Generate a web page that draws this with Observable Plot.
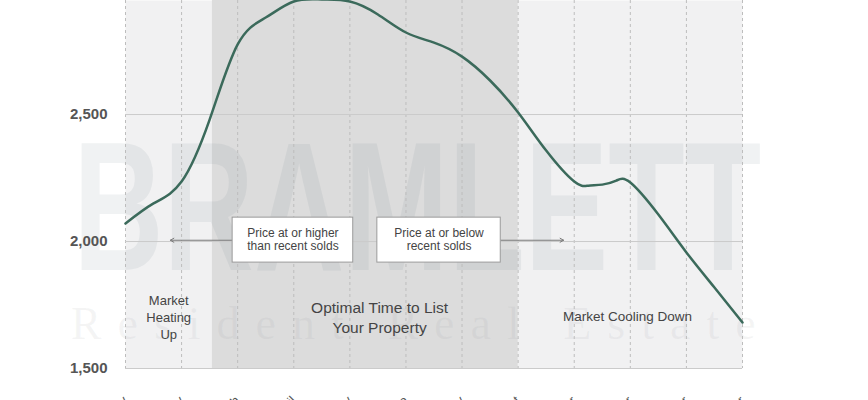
<!DOCTYPE html>
<html><head><meta charset="utf-8">
<script src="https://cdn.jsdelivr.net/npm/d3@7"></script>
<script src="https://cdn.jsdelivr.net/npm/@observablehq/plot@0.6"></script>
<style>body{margin:0;background:#fff;} svg{display:block}</style>
</head><body><div id="chart"></div>
<script>
// ---- data ----
const monthLabels = ["January","February","March","April","May","June","July","August","September","October","November","December"];
const monthIndex = [0,1,2,3,4,5,6,7,8,9,10,11];
const curveX = [0,0.5,1,1.5,2,2.5,3,3.5,4,4.5,5,5.5,6,6.5,7,7.5,8,8.25,8.5,8.75,9,9.5,10,10.5,11];
const curveY = [2071,2150,2236,2480,2776,2882,2945,2953,2945,2894,2823,2783,2728,2634,2508,2358,2236,2220,2224,2240,2232,2106,1957,1819,1681];
const yTicks = [1500,2000,2500];
const optimalStart = [1.55];
const optimalEnd = [7];
const boxLabels = ["Price at or higher\nthan recent solds","Price at or below\nrecent solds"];
const boxStart = [1.91, 4.49];
const boxEnd = [4.06, 6.69];
const boxLow = 1917, boxHigh = 2094, boxMid = 2008;
const arrowFrom = [1.91, 6.69];
const arrowTo = [0.80, 7.81];
const arrowLevel = 2005;
const phaseLabels = ["Market\nHeating\nUp","Optimal Time to List\nYour Property","Market Cooling Down"];
const phaseX = [0.77, 4.53, 8.95];
const phaseY = [1705, 1705, 1709];
const phaseSize = [13, 15.5, 13.5];
const watermarkWord = "BRAMLETT";
const watermarkSub = "Resident Real Estate";

// ---- tables ----
const curve = curveX.map((x, i) => ({x, y: curveY[i]}));
const windowRows = optimalStart.map((s, i) => ({start: s, end: optimalEnd[i]}));
const boxes = boxLabels.map((label, i) => ({label, x1: boxStart[i], x2: boxEnd[i]}));
const arrows = arrowFrom.map((a, i) => ({x1: a, x2: arrowTo[i]}));
const phases = phaseLabels.map((t, i) => ({t, x: phaseX[i], y: phaseY[i], s: phaseSize[i]}));

const font = "'Liberation Sans', Arial, Helvetica, sans-serif";

const chart = Plot.plot({
  width: 868, height: 400,
  marginLeft: 125, marginRight: 126, marginTop: 0, marginBottom: 32,
  style: {fontFamily: font, background: "#fff", overflow: "visible"},
  x: {domain: [0, 11], axis: null},
  y: {domain: [1500, 2949], axis: null},
  marks: [
    Plot.frame({fill: "#f1f1f2", stroke: null}),
    Plot.rect(windowRows, {x1: "start", x2: "end", fill: "#dcdcdc"}),
    Plot.text([watermarkWord], {x: 5.2, y: 1886, text: d => d, fontSize: 184, fontWeight: "bold", fill: "#6a7f8a", fillOpacity: 0.1, textAnchor: "middle", lineAnchor: "bottom"}),
    Plot.text([watermarkSub], {x: 5.13, y: 1615, text: d => d, fontSize: 46, fontFamily: "'Liberation Serif', 'DejaVu Serif', serif", fill: "#8a8f94", fillOpacity: 0.09, textAnchor: "middle", lineAnchor: "bottom"}),
    Plot.gridX(monthIndex, {stroke: "#bdbdbd", strokeOpacity: 1, strokeDasharray: "3,3"}),
    Plot.gridY(yTicks, {stroke: "#cbcbcb", strokeOpacity: 1}),
    Plot.axisY(yTicks, {tickSize: 0, tickPadding: 18, tickFormat: d3.format(","), fontSize: 15, fontWeight: "bold", fill: "#555", label: null}),
    Plot.axisX(monthIndex, {tickSize: 0, tickPadding: 30, tickRotate: -45, tickFormat: i => monthLabels[i], fontSize: 13, fill: "#555", label: null}),
    Plot.line(curve, {x: "x", y: "y", curve: "natural", stroke: "#3b6a5b", strokeWidth: 2.5}),
    Plot.arrow(arrows, {x1: "x1", x2: "x2", y1: arrowLevel, y2: arrowLevel, stroke: "#7a7a7a", strokeWidth: 1, headLength: 6}),
    Plot.rect(boxes, {x1: "x1", x2: "x2", y1: boxLow, y2: boxHigh, fill: "#fff", stroke: "#9a9a9a", strokeWidth: 1}),
    Plot.text(boxes, {x: d => (d.x1 + d.x2) / 2, y: boxMid, text: "label", fontSize: 12, fill: "#444", lineHeight: 1.12}),
    Plot.text(phases, {x: "x", y: "y", text: "t", fontSize: d => d.s, fill: "#444", lineHeight: 1.3})
  ]
});

// stretch watermark text to its width in the picture
d3.select(chart).selectAll("text").each(function() {
  const t = this.textContent;
  if (t === watermarkWord) this.setAttribute("textLength", 688), this.setAttribute("lengthAdjust", "spacingAndGlyphs");
  if (t === watermarkSub) this.setAttribute("textLength", 685), this.setAttribute("lengthAdjust", "spacing");
});

document.getElementById("chart").appendChild(chart);
</script>
</body></html>
